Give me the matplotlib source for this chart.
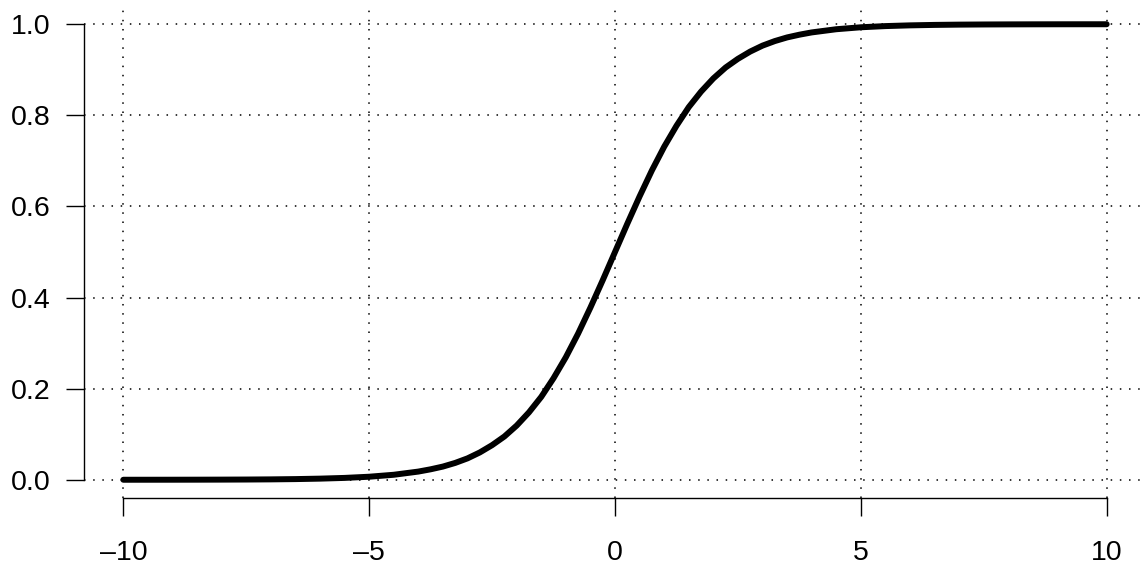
import matplotlib
matplotlib.use('Agg')
import matplotlib.pyplot as plt

# values
x_vals = [-10, -9.5, -9, -8.5, -8, -7.5, -7, -6.5, -6, -5.5, -5, -4.5,
          -4, -3.75, -3.5, -3.25, -3, -2.75, -2.5, -2.25, -2, -1.75, -1.5, -1.25,
          -1, -0.75, -0.5, -0.25, 0, 0.25, 0.5, 0.75, 1, 1.25, 1.5, 1.75,
          2, 2.25, 2.5, 2.75, 3, 3.25, 3.5, 3.75, 4,
          4.5, 5, 5.5, 6, 6.5, 7, 7.5, 8, 8.5, 9, 9.5, 10]
y_vals = [0.00005, 0.00007, 0.00012, 0.0002, 0.00034, 0.00055, 0.0009, 0.0015,
          0.0025, 0.0041, 0.0067, 0.011,
          0.018, 0.023, 0.029, 0.037, 0.047, 0.060, 0.076, 0.095, 0.119, 0.148,
          0.182, 0.223, 0.269, 0.321, 0.378, 0.438, 0.5, 0.562, 0.622, 0.679,
          0.731, 0.777, 0.818, 0.852, 0.881, 0.905, 0.924, 0.940, 0.953, 0.963,
          0.971, 0.977, 0.982,
          0.989, 0.9933, 0.9959, 0.9975, 0.9985, 0.9991, 0.99945, 0.99966,
          0.9998, 0.99988, 0.99993, 0.99995]
x_ticks = [-10, -5, 0, 5, 10]
y_ticks = [0.0, 0.2, 0.4, 0.6, 0.8, 1.0]

plt.rcParams['font.family'] = ['Liberation Sans', 'DejaVu Sans']

fig = plt.figure(figsize=(11.48, 5.65), dpi=100)
ax = fig.add_axes([84 / 1148, 67 / 565, 1062 / 1148, 492 / 565])

for xt in x_ticks:
    ax.axvline(xt, color='black', lw=1.1, ls=(0, (1, 5)), zorder=1)
for yt in y_ticks:
    ax.axhline(yt, color='black', lw=1.1, ls=(0, (1, 5)), zorder=1)

ax.plot(x_vals, y_vals, color='black', lw=4.3, solid_capstyle='round',
        solid_joinstyle='round', zorder=3)

ax.set_xlim(-10.8, 10.8)
ax.set_ylim(-0.04, 1.04)
ax.set_xticks(x_ticks)
ax.set_xticklabels([f'{v:d}'.replace('-', '\u2013') for v in x_ticks])
ax.set_yticks(y_ticks)
ax.set_yticklabels([f'{v:.1f}' for v in y_ticks])

for s in ['top', 'right']:
    ax.spines[s].set_visible(False)
ax.spines['left'].set_bounds(0, 1)
ax.spines['bottom'].set_bounds(-10, 10)
ax.spines['left'].set_linewidth(1.0)
ax.spines['bottom'].set_linewidth(1.0)
ax.tick_params(axis='both', direction='out', length=13, width=1.0,
               labelsize=20.5)
ax.tick_params(axis='y', pad=11)
ax.tick_params(axis='x', pad=17)

fig.savefig('out.png', dpi=100)
